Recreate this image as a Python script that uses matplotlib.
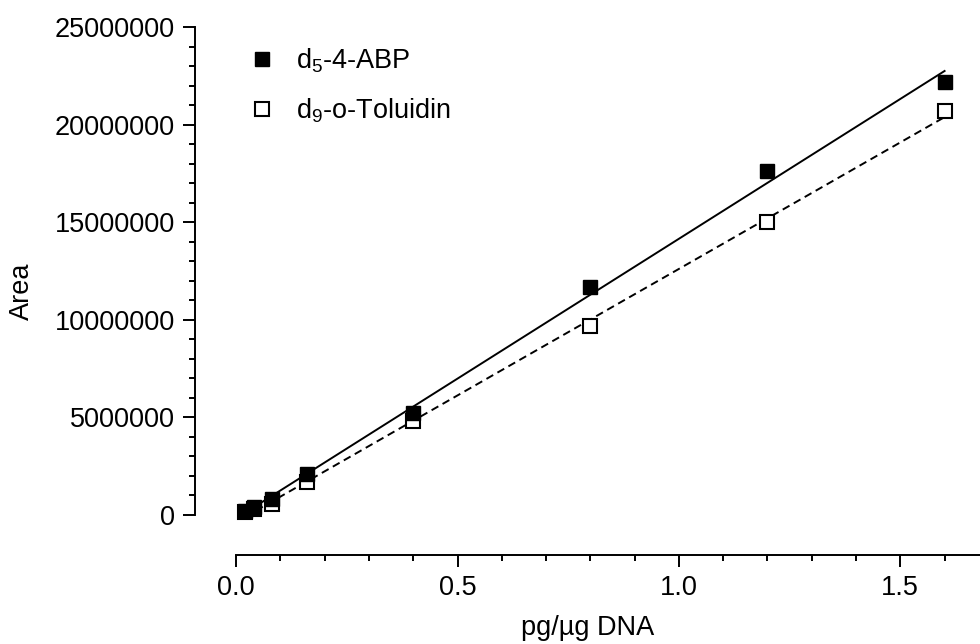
import numpy as np
import matplotlib
matplotlib.use("Agg")
import matplotlib.pyplot as plt
from matplotlib.ticker import MultipleLocator, FixedLocator, FormatStrFormatter

plt.rcParams['font.family'] = ['Liberation Sans', 'DejaVu Sans']
plt.rcParams['mathtext.fontset'] = 'custom'
plt.rcParams['mathtext.rm'] = 'Liberation Sans'

# concentrations (pg/ug DNA) and peak areas
conc = [0.02, 0.04, 0.08, 0.16, 0.4, 0.8, 1.2, 1.6]
area_abp = [200000, 400000, 800000, 2100000, 5200000, 11700000, 17600000, 22200000]
area_tol = [150000, 300000, 550000, 1700000, 4800000, 9700000, 15000000, 20700000]

fig = plt.figure(figsize=(9.8, 6.44), dpi=100)
ax = fig.add_axes([195 / 980, 1 - 555 / 644, 1 - 195 / 980, (555 - 27) / 644])

x = np.array(conc)
# linear fits
p_abp = np.polyfit(x, area_abp, 1)
p_tol = np.polyfit(x, area_tol, 1)
xf = np.array([x.min(), x.max()])
ax.plot(xf, np.polyval(p_abp, xf), color='black', lw=1.4, zorder=2)
ax.plot(xf, np.polyval(p_tol, xf), color='black', lw=1.4, ls=(0, (4, 2.5)), zorder=2)

ax.plot(conc, area_tol, 's', ms=10.5, mfc='white', mec='black', mew=1.5,
        label=r'$\mathregular{d_9}$-o-Toluidin', zorder=3)
ax.plot(conc, area_abp, 's', ms=10.5, mfc='black', mec='black', mew=1.0,
        label=r'$\mathregular{d_5}$-4-ABP', zorder=4)

ax.set_xlim(-0.093, 1.68)
ax.set_ylim(-2050000, 25000000)

for s in ['top', 'right']:
    ax.spines[s].set_visible(False)
ax.spines['left'].set_bounds(0, 25000000)
ax.spines['bottom'].set_bounds(0, 1.68)
for s in ['left', 'bottom']:
    ax.spines[s].set_linewidth(1.4)

ax.xaxis.set_major_locator(MultipleLocator(0.5))
ax.xaxis.set_minor_locator(FixedLocator(np.arange(0, 1.65, 0.1)))
ax.yaxis.set_major_locator(FixedLocator(np.arange(0, 25000001, 5000000)))
ax.yaxis.set_minor_locator(FixedLocator(np.arange(0, 25000001, 1000000)))
ax.xaxis.set_major_formatter(FormatStrFormatter('%.1f'))
ax.yaxis.set_major_formatter(FormatStrFormatter('%d'))
ax.tick_params(which='major', length=8.5, width=1.4, labelsize=19.5, pad=6)
ax.tick_params(which='minor', length=4.5, width=1.4)

ax.set_xlabel('pg/µg DNA', fontsize=19.5, labelpad=10)
ax.set_ylabel('Area', fontsize=19.5, labelpad=14)

h, l = ax.get_legend_handles_labels()
ax.legend(h[::-1], l[::-1], loc='upper left', bbox_to_anchor=(0.037, 1.01),
          frameon=False, fontsize=19.5, handletextpad=0.75, labelspacing=0.8,
          handlelength=1.0)

fig.savefig('out.png', dpi=100)
